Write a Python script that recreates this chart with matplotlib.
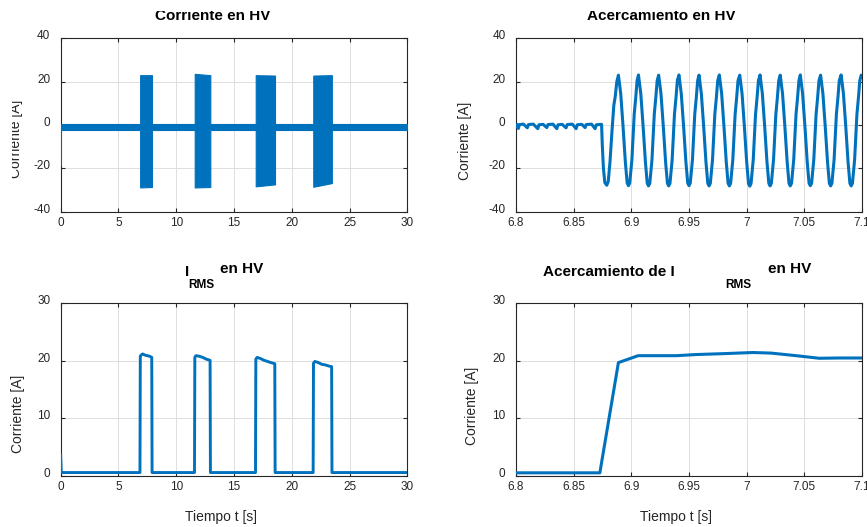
import matplotlib
matplotlib.use('Agg')
import matplotlib.pyplot as plt
import matplotlib.transforms as mtransforms
import numpy as np

plt.rcParams['font.family'] = ['Liberation Sans', 'DejaVu Sans']
plt.rcParams['axes.unicode_minus'] = False

# ── DATA ─────────────────────────────────────────────────────
# full record, current in HV (envelope: baseline band + 4 bursts)
base_t  = [0.0, 30.0]
base_hi = [0.5, 0.5]
base_lo = [-2.4, -2.4]
spike_t = [0.0, 0.0, 0.03]
spike_i = [-18.5, -0.5, -1.0]

burst_on     = [6.875, 11.60, 16.88, 21.86]
burst_off    = [7.90, 12.95, 18.55, 23.47]
burst_hi_on  = [23.0, 23.6, 23.0, 22.8]
burst_hi_off = [23.0, 23.0, 22.8, 23.0]
burst_lo_on  = [-28.8, -28.8, -28.3, -28.5]
burst_lo_off = [-28.6, -28.6, -27.4, -26.8]

# zoom 6.8 - 7.1 s
zoom_t = [6.8000, 6.8010, 6.8020, 6.8030, 6.8065, 6.8098, 6.8108, 6.8150, 6.8189, 6.8199,
          6.8235, 6.8267, 6.8277, 6.8320, 6.8354, 6.8364, 6.8400, 6.8434, 6.8444, 6.8488,
          6.8521, 6.8531, 6.8570, 6.8599, 6.8609, 6.8655, 6.8686, 6.8696, 6.8742,
          6.8748, 6.8758, 6.8770, 6.8787, 6.8800, 6.8815, 6.8832, 6.8848, 6.8860, 6.8874,
          6.8888, 6.8908, 6.8928, 6.8948, 6.8964, 6.8975, 6.8986, 6.9005, 6.9025, 6.9038, 6.9050,
          6.9062, 6.9082, 6.9102, 6.9122, 6.9138, 6.9149, 6.9160, 6.9179, 6.9199, 6.9212, 6.9224,
          6.9237, 6.9257, 6.9277, 6.9297, 6.9313, 6.9324, 6.9335, 6.9354, 6.9374, 6.9387, 6.9399,
          6.9413, 6.9433, 6.9453, 6.9473, 6.9489, 6.9500, 6.9511, 6.9530, 6.9550, 6.9563, 6.9575,
          6.9587, 6.9607, 6.9627, 6.9647, 6.9663, 6.9674, 6.9685, 6.9704, 6.9724, 6.9737, 6.9749,
          6.9763, 6.9783, 6.9803, 6.9823, 6.9839, 6.9850, 6.9861, 6.9880, 6.9900, 6.9913, 6.9925,
          6.9940, 6.9960, 6.9980, 7.0000, 7.0016, 7.0027, 7.0038, 7.0057, 7.0077, 7.0090, 7.0102,
          7.0116, 7.0136, 7.0156, 7.0176, 7.0192, 7.0203, 7.0214, 7.0233, 7.0253, 7.0266, 7.0278,
          7.0291, 7.0311, 7.0331, 7.0351, 7.0367, 7.0378, 7.0389, 7.0408, 7.0428, 7.0441, 7.0453,
          7.0465, 7.0485, 7.0505, 7.0525, 7.0541, 7.0552, 7.0563, 7.0582, 7.0602, 7.0615, 7.0627,
          7.0641, 7.0661, 7.0681, 7.0701, 7.0717, 7.0728, 7.0739, 7.0758, 7.0778, 7.0791, 7.0803,
          7.0819, 7.0839, 7.0859, 7.0879, 7.0895, 7.0906, 7.0917, 7.0936, 7.0956, 7.0969, 7.0981,
          7.0993, 7.1000]
zoom_i = [-0.6, 0.3, -1.6, 0.2, 0.4, -1.3, 0.2, 0.4, -1.7, 0.1,
          0.3, -1.2, 0.2, 0.4, -1.7, 0.1, 0.3, -1.3, 0.2, 0.4,
          -1.7, 0.1, 0.3, -1.2, 0.2, 0.4, -1.7, 0.1, 0.3,
          -9.0, -20.0, -26.5, -27.8, -26.0, -17.0, -3.0, 9.0, 13.0, 20.0,
          23.0, 14.5, -0.5, -17.0, -26.8, -28.0, -26.8, -16.0, 5.0, 12.5, 20.5,
          23.1, 14.5, -0.5, -17.0, -26.9, -28.1, -26.9, -16.0, 5.0, 12.5, 20.5,
          23.0, 14.5, -0.5, -17.0, -26.9, -28.1, -26.9, -16.0, 5.0, 12.5, 20.5,
          23.1, 14.5, -0.5, -17.0, -26.8, -28.0, -26.8, -16.0, 5.0, 12.5, 20.5,
          23.0, 14.5, -0.5, -17.0, -26.9, -28.1, -26.9, -16.0, 5.0, 12.5, 20.5,
          23.1, 14.5, -0.5, -17.0, -26.9, -28.1, -26.9, -16.0, 5.0, 12.5, 20.5,
          23.0, 14.5, -0.5, -17.0, -27.0, -28.2, -27.0, -16.0, 5.0, 12.5, 20.5,
          23.1, 14.5, -0.5, -17.0, -26.9, -28.1, -26.9, -16.0, 5.0, 12.5, 20.5,
          23.0, 14.5, -0.5, -17.0, -26.9, -28.1, -26.9, -16.0, 5.0, 12.5, 20.5,
          23.1, 14.5, -0.5, -17.0, -26.9, -28.0, -26.9, -16.0, 5.0, 12.5, 20.5,
          23.0, 14.5, -0.5, -17.0, -26.9, -28.1, -26.9, -16.0, 5.0, 12.5, 20.5,
          23.1, 14.5, -0.5, -17.0, -26.9, -28.1, -26.9, -16.0, 5.0, 12.5, 20.5,
          23.0, 22.2]

# RMS, full record
rms_t = [0.00, 0.05, 6.86, 6.89, 6.95, 7.10, 7.30, 7.50, 7.70, 7.88, 7.91,
         11.58, 11.61, 11.70, 12.00, 12.30, 12.60, 12.93, 12.96,
         16.86, 16.89, 17.00, 17.30, 17.60, 17.90, 18.20, 18.53, 18.56,
         21.85, 21.88, 22.00, 22.30, 22.60, 22.90, 23.20, 23.45, 23.48, 30.00]
rms_i = [3.6, 0.6, 0.6, 20.8, 21.0, 21.2, 21.0, 20.9, 20.8, 20.6, 0.6,
         0.6, 20.6, 20.9, 20.8, 20.6, 20.3, 20.1, 0.6,
         0.6, 20.3, 20.6, 20.4, 20.1, 19.9, 19.7, 19.5, 0.6,
         0.6, 19.6, 19.9, 19.7, 19.4, 19.3, 19.1, 19.0, 0.6, 0.6]

# RMS, zoom
rms_zoom_t = [6.8000, 6.8727, 6.8888, 6.9059, 6.9390, 6.9563, 6.9794, 7.0054,
              7.0212, 7.0429, 7.0630, 7.0804, 7.1000]
rms_zoom_i = [0.55, 0.55, 19.7, 20.9, 20.9, 21.1, 21.25, 21.45,
              21.35, 20.9, 20.45, 20.5, 20.5]

# ── STYLE ────────────────────────────────────────────────────
LINE   = '#0072BD'
AX_C   = '#262626'
GRID_C = '#dedede'
W, H = 867, 527

fig = plt.figure(figsize=(W / 100, H / 100), dpi=100)


def px_rect(l, t, r, b):
    return [l / W, 1 - b / H, (r - l) / W, (b - t) / H]


def style(ax, xlim, ylim, xticks, yticks, xticklabels):
    ax.set_xlim(xlim)
    ax.set_ylim(ylim)
    ax.set_xticks(xticks)
    ax.set_xticklabels(xticklabels)
    ax.set_yticks(yticks)
    ax.grid(True, color=GRID_C, linewidth=0.7)
    ax.set_axisbelow(True)
    for s in ax.spines.values():
        s.set_color(AX_C)
        s.set_linewidth(0.8)
    ax.tick_params(direction='in', top=True, right=True, length=3, width=0.8,
                   color=AX_C, labelcolor=AX_C, labelsize=8.5)
    ax.tick_params(axis='y', pad=7.5)
    ax.tick_params(axis='x', pad=3.8)
    # tick labels sit a little above their ticks in the original
    off = mtransforms.ScaledTranslation(0, 3.5 / 100, fig.dpi_scale_trans)
    for lab in ax.get_yticklabels():
        lab.set_transform(lab.get_transform() + off)


def ftext(x, y, s, clip_top=None, clip_left=None, **kw):
    t = fig.text(x / W, 1 - y / H, s, **kw)
    if clip_top is not None or clip_left is not None:
        x0 = (clip_left or 0) / W
        y1 = 1 - (clip_top or 0) / H
        t.set_clip_box(mtransforms.TransformedBbox(
            mtransforms.Bbox.from_extents(x0, 0, 1, y1), fig.transFigure))
        t.set_clip_on(True)
    return t


ax_tl = fig.add_axes(px_rect(60.7, 38.3, 407.3, 211.7))
ax_tr = fig.add_axes(px_rect(516.0, 38.3, 862.0, 211.7))
ax_bl = fig.add_axes(px_rect(60.7, 303.3, 407.3, 476.0))
ax_br = fig.add_axes(px_rect(516.0, 303.3, 862.0, 476.0))

# top left — full current
ax_tl.fill_between(base_t, base_lo, base_hi, color=LINE, linewidth=0.8, zorder=3)
ax_tl.plot(spike_t, spike_i, color=LINE, linewidth=1.6, zorder=3)
for k in range(len(burst_on)):
    ax_tl.fill_between([burst_on[k], burst_off[k]],
                       [burst_lo_on[k], burst_lo_off[k]],
                       [burst_hi_on[k], burst_hi_off[k]],
                       color=LINE, linewidth=0.8, zorder=3)
style(ax_tl, (0, 30), (-40, 40), range(0, 31, 5), range(-40, 41, 20),
      [str(v) for v in range(0, 31, 5)])

# top right — zoom
ax_tr.plot(zoom_t, zoom_i, color=LINE, linewidth=2.2, zorder=3)
zt = [6.8, 6.85, 6.9, 6.95, 7.0, 7.05, 7.1]
style(ax_tr, (6.8, 7.1), (-40, 40), zt, range(-40, 41, 20),
      ['6.8', '6.85', '6.9', '6.95', '7', '7.05', '7.1'])

# bottom left — RMS
ax_bl.plot(rms_t, rms_i, color=LINE, linewidth=2.1, zorder=3)
style(ax_bl, (0, 30), (0, 30), range(0, 31, 5), range(0, 31, 10),
      [str(v) for v in range(0, 31, 5)])

# bottom right — RMS zoom
ax_br.plot(rms_zoom_t, rms_zoom_i, color=LINE, linewidth=2.2, zorder=3)
style(ax_br, (6.8, 7.1), (0, 30), zt, range(0, 31, 10),
      ['6.8', '6.85', '6.9', '6.95', '7', '7.05', '7.1'])

# titles
tk = dict(fontsize=11, fontweight='bold', color='black', ha='left', va='baseline')
ftext(155, 19.5, 'Corriente en HV', clip_top=10.5, **tk)
ftext(587, 19.5, 'Acercamiento en HV', clip_top=10.5, **tk)
ftext(185, 275.7, 'I', **tk)
ftext(188, 287.7, 'RMS', fontsize=8.5, fontweight='bold', color='black',
      ha='left', va='baseline')
ftext(220, 273.3, 'en HV', **tk)
ftext(543, 275.7, 'Acercamiento de I', **tk)
ftext(725, 287.7, 'RMS', fontsize=8.5, fontweight='bold', color='black',
      ha='left', va='baseline')
ftext(768, 273.3, 'en HV', **tk)

# axis labels
lk = dict(fontsize=10, color=AX_C, rotation=90, ha='center', va='center')
ftext(15.7, 139, 'Corriente [A]', clip_left=12, **lk)
ftext(465.5, 141, 'Corriente [A]', **lk)
ftext(18.5, 414, 'Corriente [A]', **lk)
ftext(472.0, 406, 'Corriente [A]', **lk)
xk = dict(fontsize=10, color=AX_C, ha='center', va='baseline')
ftext(221, 520.5, 'Tiempo t [s]', **xk)
ftext(676, 520.5, 'Tiempo t [s]', **xk)

fig.savefig('out.png', dpi=100, facecolor='white')
plt.close(fig)
